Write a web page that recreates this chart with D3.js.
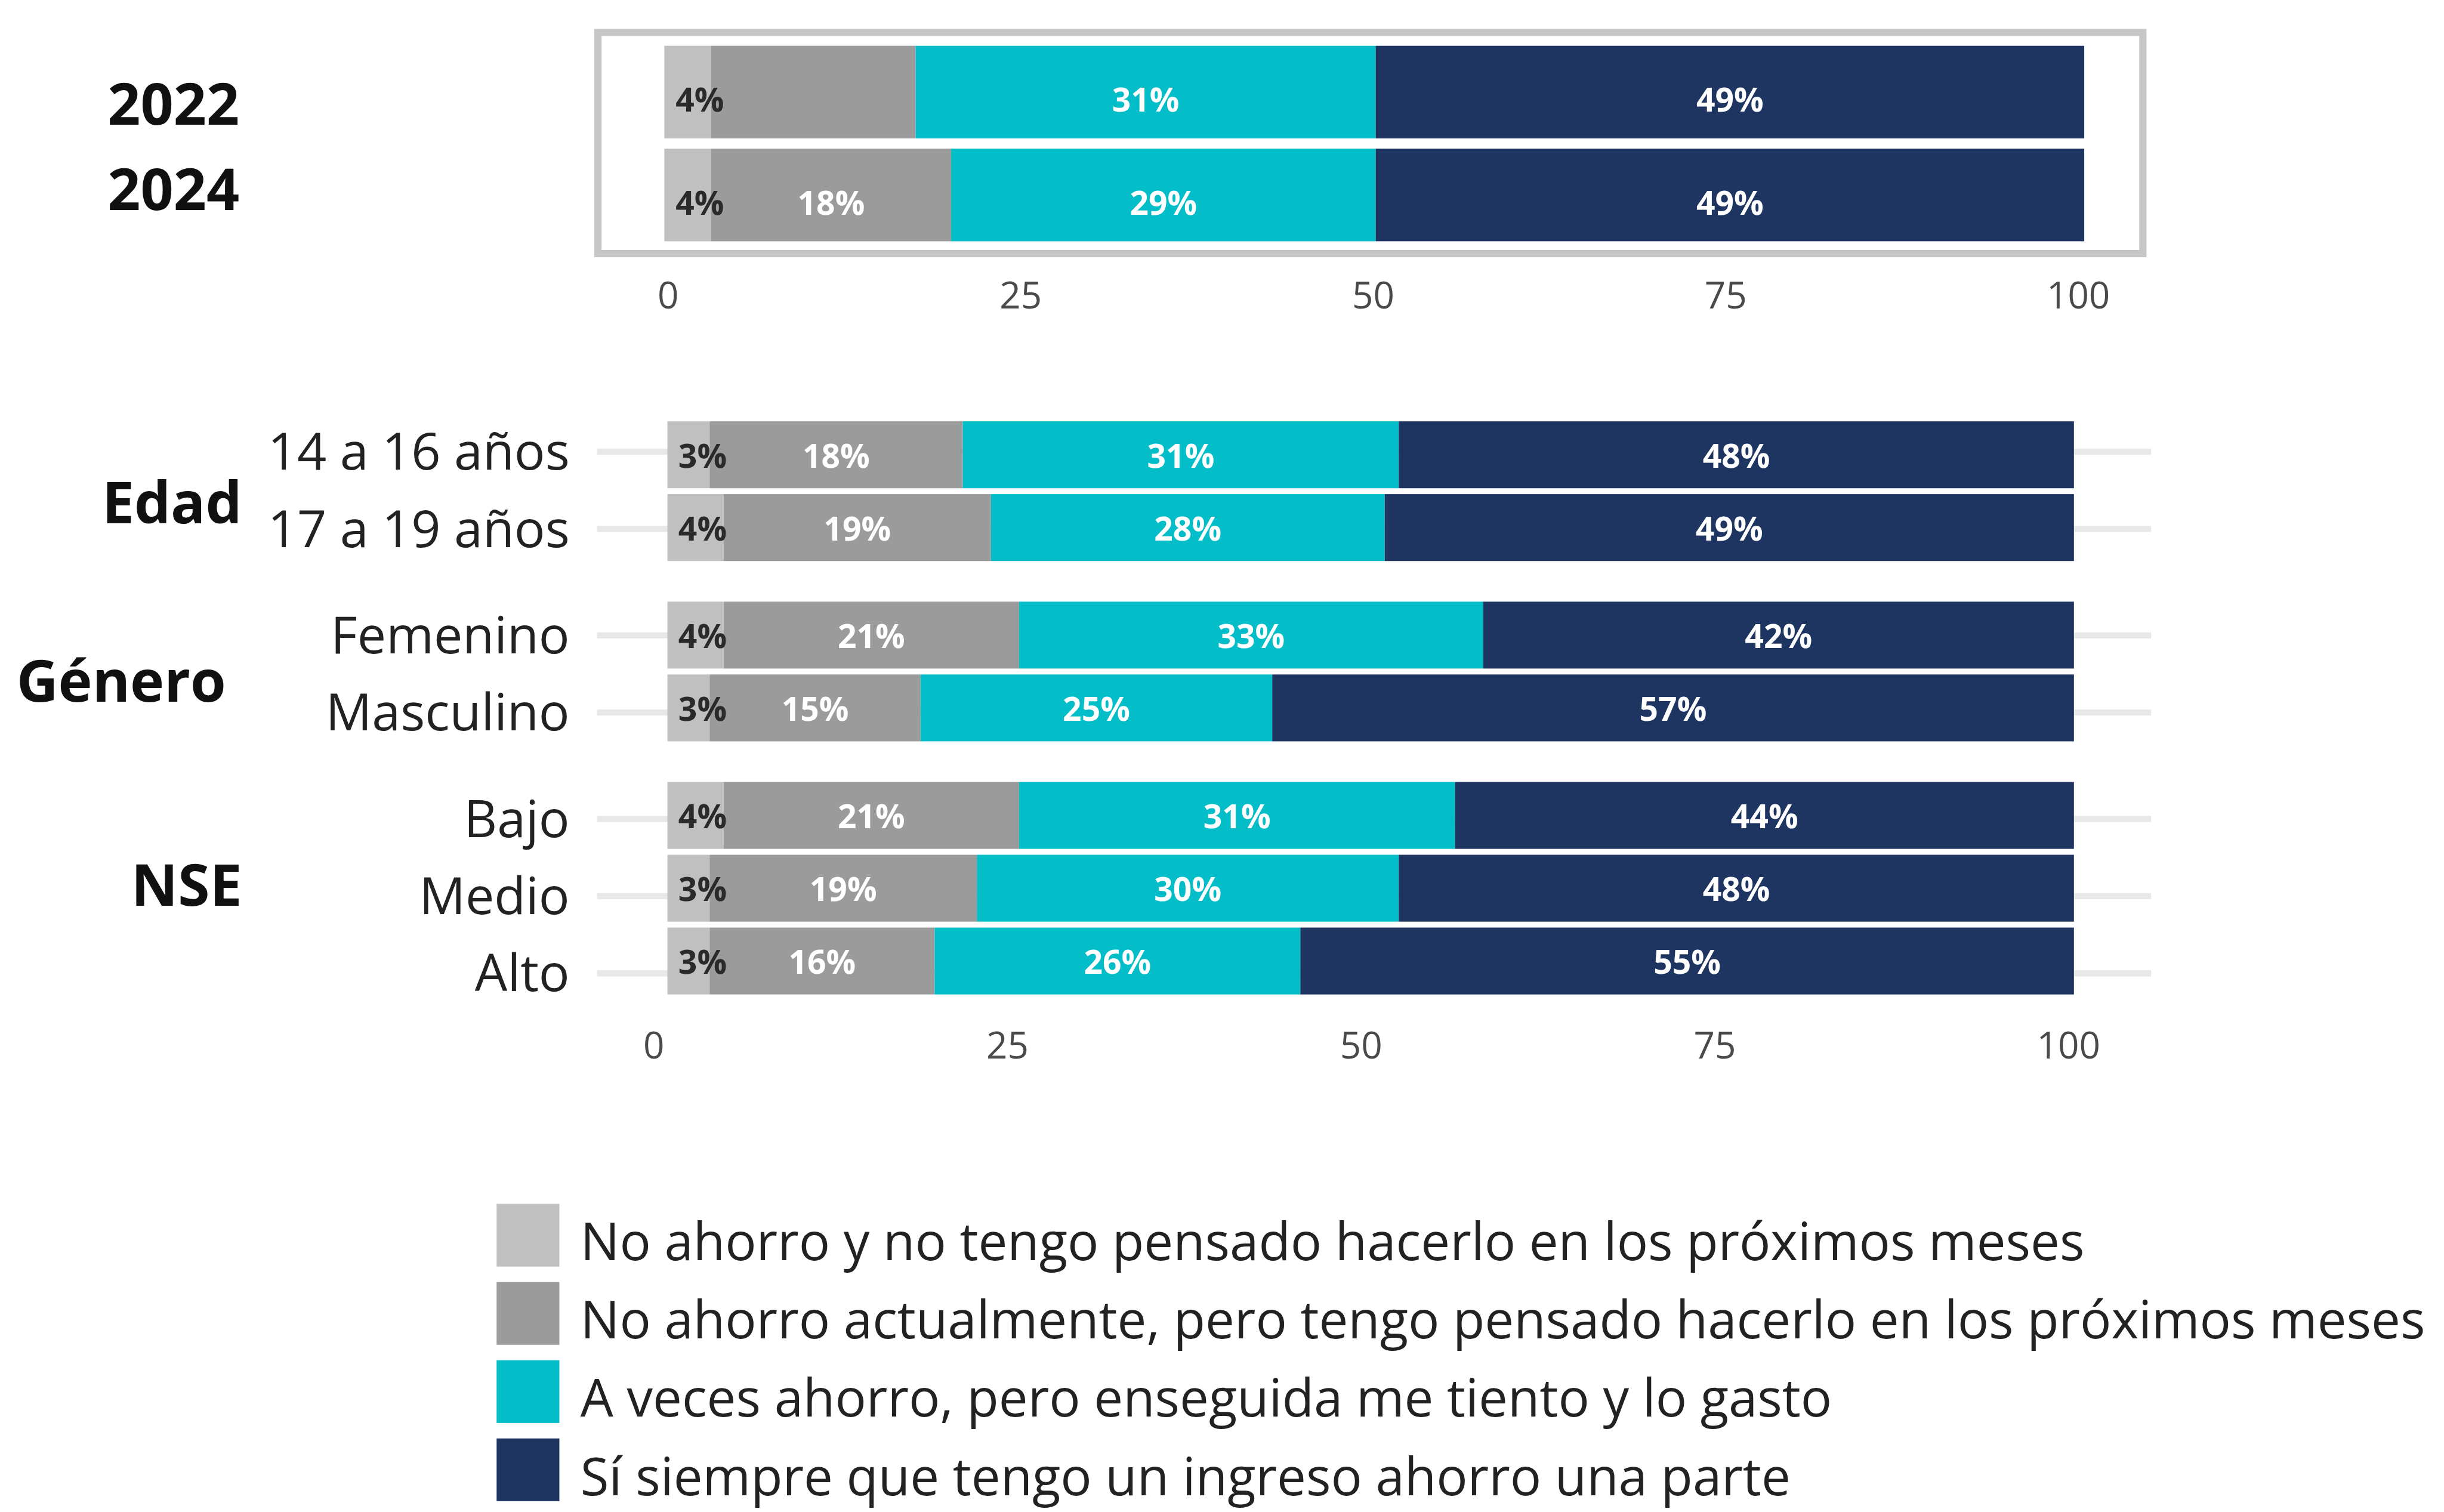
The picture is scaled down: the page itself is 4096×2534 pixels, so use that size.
<!DOCTYPE html>
<html>
<head>
<meta charset="utf-8">
<script src="https://cdn.jsdelivr.net/npm/d3@7"></script>
<style>
  html, body { margin: 0; padding: 0; background: #ffffff; }
  svg { display: block; }
  text { font-family: "Open Sans", "DejaVu Sans", sans-serif; }
</style>
</head>
<body>
<div id="chart"></div>
<script>
// ---------------- DATA ----------------
const rows = ["2022", "2024", "14 a 16 años", "17 a 19 años", "Femenino", "Masculino", "Bajo", "Medio", "Alto"];
const rowGroup = ["Año", "Año", "Edad", "Edad", "Género", "Género", "NSE", "NSE", "NSE"];
const groups = ["Edad", "Género", "NSE"];

const seriesNames = [
  "No ahorro y no tengo pensado hacerlo en los próximos meses",
  "No ahorro actualmente, pero tengo pensado hacerlo en los próximos meses",
  "A veces ahorro, pero enseguida me tiento y lo gasto",
  "Sí siempre que tengo un ingreso ahorro una parte"
];
const seriesColors = ["#c0c0c0", "#9b9b9b", "#03bdc8", "#1f3561"];

// segment values (% of each row)
const noAhorroNoPiensa   = [3.3, 3.3, 3, 4, 4, 3, 4, 3, 3];
const noAhorroPiensa     = [14.4, 16.9, 18, 19, 21, 15, 21, 19, 16];
const aVecesAhorro       = [32.4, 29.9, 31, 28, 33, 25, 31, 30, 26];
const siempreAhorro      = [49.9, 49.9, 48, 49, 42, 57, 44, 48, 55];

// printed value labels
const lblNoAhorroNoPiensa = ["4%", "4%", "3%", "4%", "4%", "3%", "4%", "3%", "3%"];
const lblNoAhorroPiensa   = ["", "18%", "18%", "19%", "21%", "15%", "21%", "19%", "16%"];
const lblAVecesAhorro     = ["31%", "29%", "31%", "28%", "33%", "25%", "31%", "30%", "26%"];
const lblSiempreAhorro    = ["49%", "49%", "48%", "49%", "42%", "57%", "44%", "48%", "55%"];

const tickValues = [0, 25, 50, 75, 100];

// ---------------- BUILD TABLE ----------------
const seriesValues = [noAhorroNoPiensa, noAhorroPiensa, aVecesAhorro, siempreAhorro];
const seriesLabels = [lblNoAhorroNoPiensa, lblNoAhorroPiensa, lblAVecesAhorro, lblSiempreAhorro];
const table = rows.map((r, i) => {
  const o = { row: r, group: rowGroup[i] };
  seriesNames.forEach((s, k) => { o[s] = seriesValues[k][i]; });
  return o;
});
const stacked = d3.stack().keys(seriesNames)(table);

// ---------------- LAYOUT (reference pixel units) ----------------
const W = 4750, H = 2939;
const svg = d3.select("#chart").append("svg")
  .attr("width", 4096).attr("height", 2534)
  .attr("viewBox", `0 0 ${W} ${H}`);

const topRows = rows.filter((r, i) => rowGroup[i] === "Año");
const isTop = r => topRows.includes(r);

// scales
const xTop = d3.scaleLinear().domain([0, 100]).range([1291, 4051]);
const xBot = d3.scaleLinear().domain([0, 100]).range([1297, 4031]);
const xTopAxis = d3.scaleLinear().domain([0, 100]).range([1298, 4039]);
const xBotAxis = d3.scaleLinear().domain([0, 100]).range([1270, 4020]);
const yTop = d3.scaleBand().domain(topRows).range([79, 479]).paddingInner(0.1).paddingOuter(0.05);
const yTopLabel = d3.scalePoint().domain(topRows).range([203, 369]);

// bottom panel positions (group index, index within group)
const botRows = rows.filter(r => !isTop(r));
const posInGroup = {};
groups.forEach((g, gi) => {
  botRows.filter(r => rowGroup[rows.indexOf(r)] === g).forEach((r, i) => { posInGroup[r] = { gi, i }; });
});
const barH = 130;
const barTopBot = r => 819 + posInGroup[r].gi * 350.5 + posInGroup[r].i * 141.5;
const labelYBot = r => 878 + posInGroup[r].gi * 357 + posInGroup[r].i * 150;

const xOf = r => isTop(r) ? xTop : xBot;
const barY = r => isTop(r) ? yTop(r) : barTopBot(r);
const barHeight = r => isTop(r) ? yTop.bandwidth() : barH;

// ---------------- TOP PANEL BOX ----------------
svg.append("rect")
  .attr("x", 1162).attr("y", 63).attr("width", 3003).attr("height", 430)
  .attr("fill", "#ffffff").attr("stroke", "#c6c6c6").attr("stroke-width", 14);

// ---------------- GRIDLINES (bottom panel) ----------------
svg.append("g").selectAll("line").data(botRows).join("line")
  .attr("x1", 1160).attr("x2", 4181)
  .attr("y1", r => labelYBot(r)).attr("y2", r => labelYBot(r))
  .attr("stroke", "#e8e8e8").attr("stroke-width", 12);

// ---------------- BARS ----------------
const layers = svg.append("g").selectAll("g").data(stacked).join("g")
  .attr("fill", (d, k) => seriesColors[k]);
layers.selectAll("rect").data(d => d).join("rect")
  .attr("x", d => xOf(d.data.row)(d[0]))
  .attr("width", d => xOf(d.data.row)(d[1]) - xOf(d.data.row)(d[0]))
  .attr("y", d => barY(d.data.row))
  .attr("height", d => barHeight(d.data.row));

// ---------------- VALUE LABELS ----------------
const lblG = svg.append("g");
stacked.forEach((layer, k) => {
  lblG.append("g").selectAll("text").data(layer).join("text")
    .attr("x", d => {
      const x = xOf(d.data.row);
      const v = d[1] - d[0];
      return x(d[0] + Math.max(v, 5) / 2);
    })
    .attr("y", d => barY(d.data.row) + barHeight(d.data.row) / 2 + (isTop(d.data.row) ? 16 : 3))
    .attr("dy", "0.35em")
    .attr("text-anchor", "middle")
    .attr("font-size", 64).attr("font-weight", 700)
    .attr("fill", k === 0 ? "#2a2a2a" : "#ffffff")
    .text(d => seriesLabels[k][rows.indexOf(d.data.row)]);
});

// ---------------- AXES ----------------
const topAxis = d3.axisBottom(xTopAxis).tickValues(tickValues).tickSize(0).tickPadding(0);
const botAxis = d3.axisBottom(xBotAxis).tickValues(tickValues).tickSize(0).tickPadding(0);
[[topAxis, 574], [botAxis, 2032]].forEach(([ax, y]) => {
  const g = svg.append("g").attr("transform", `translate(0,${y})`).call(ax);
  g.select(".domain").remove();
  g.selectAll("text")
    .attr("y", 0).attr("dy", "0.35em")
    .attr("font-size", 72).attr("fill", "#4a4a4a")
    .attr("font-family", "'Open Sans', 'DejaVu Sans', sans-serif");
});

// ---------------- ROW LABELS ----------------
svg.append("g").selectAll("text").data(topRows).join("text")
  .attr("x", 465).attr("y", r => yTopLabel(r)).attr("dy", "0.35em")
  .attr("text-anchor", "end").attr("font-size", 112).attr("font-weight", 700)
  .attr("fill", "#111111").text(r => r);

svg.append("g").selectAll("text").data(botRows).join("text")
  .attr("x", 1107).attr("y", r => labelYBot(r)).attr("dy", "0.35em")
  .attr("text-anchor", "end").attr("font-size", 100)
  .attr("fill", "#222222").text(r => r);

// group labels
const groupLabelX = [470, 439, 470];
const groupLabelY = [978, 1325, 1722];
svg.append("g").selectAll("text").data(groups).join("text")
  .attr("x", (g, i) => groupLabelX[i]).attr("y", (g, i) => groupLabelY[i]).attr("dy", "0.35em")
  .attr("text-anchor", "end").attr("font-size", 112).attr("font-weight", 700)
  .attr("fill", "#111111").text(g => g);

// ---------------- LEGEND ----------------
const legend = svg.append("g").selectAll("g").data(seriesNames).join("g")
  .attr("transform", (d, i) => `translate(0,${i * 152})`);
legend.append("rect")
  .attr("x", 965).attr("y", 2340).attr("width", 122).attr("height", 122)
  .attr("fill", (d, i) => seriesColors[i]);
legend.append("text")
  .attr("x", 1128).attr("y", 2450)
  .attr("font-size", 101).attr("fill", "#222222")
  .text(d => d);
</script>
</body>
</html>
